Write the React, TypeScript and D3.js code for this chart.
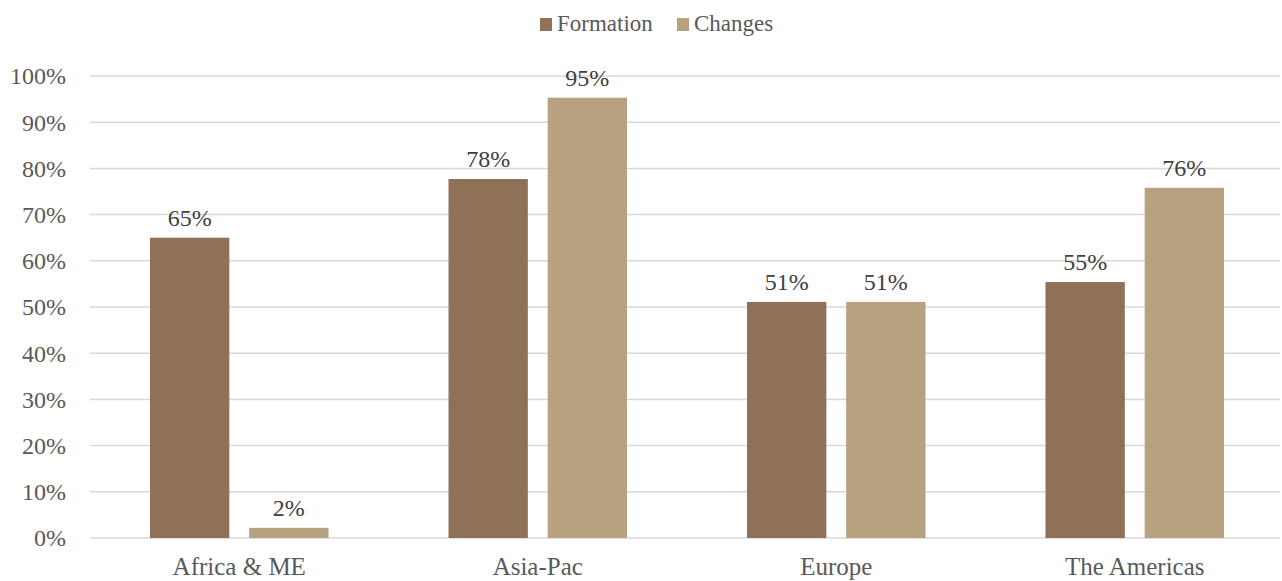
import React from "react";
import * as d3 from "d3";

const categories = ["Africa & ME", "Asia-Pac", "Europe", "The Americas"];
const seriesNames = ["Formation", "Changes"];
const formation = [0.65, 0.777, 0.511, 0.554];
const changes = [0.022, 0.953, 0.511, 0.758];
const yTicks = [0, 0.1, 0.2, 0.3, 0.4, 0.5, 0.6, 0.7, 0.8, 0.9, 1.0];
const colors = ["#8F7157", "#B8A17F"];

const W = 1282;
const H = 581;
const FONT = "Liberation Serif, Times New Roman, serif";

export default function App() {
  const x0 = d3.scaleBand<string>().domain(categories).range([90, 1284]).paddingInner(0).paddingOuter(0);
  const x1 = d3.scaleBand<string>().domain(seriesNames).range([60, x0.bandwidth() - 60]).paddingInner(0.2);
  const y = d3.scaleLinear().domain([0, 1]).range([538, 76]);
  const data = [formation, changes];
  const fmt = d3.format(".0%");
  const legendX = [540, 677];

  return (
    <svg width={W} height={H} style={{ position: "absolute", left: 0, top: 0, background: "#fff", fontFamily: FONT }}>
      {yTicks.map((t) => (
        <g key={t}>
          <line x1={90} x2={1280} y1={y(t)} y2={y(t)} stroke="#D9D9D9" strokeWidth={1.5} />
          <text x={66} y={y(t)} dy="0.35em" textAnchor="end" fontSize={24} fill="#595959">
            {fmt(t)}
          </text>
        </g>
      ))}
      {categories.map((c, i) => (
        <g key={c} transform={`translate(${x0(c)},0)`}>
          {seriesNames.map((s, j) => {
            const v = data[j][i];
            const bx = x1(s)!;
            return (
              <g key={s}>
                <rect x={bx} y={y(v)} width={x1.bandwidth()} height={y(0) - y(v)} fill={colors[j]} />
                <text x={bx + x1.bandwidth() / 2} y={y(v) - 12} textAnchor="middle" fontSize={24} fill="#404040">
                  {fmt(v)}
                </text>
              </g>
            );
          })}
          <text x={x0.bandwidth() / 2} y={575} textAnchor="middle" fontSize={25} fill="#595959">
            {c}
          </text>
        </g>
      ))}
      <g>
        {seriesNames.map((s, j) => (
          <g key={s}>
            <rect x={legendX[j]} y={18} width={12} height={13} fill={colors[j]} />
            <text x={legendX[j] + 17} y={31} fontSize={23} fill="#595959">
              {s}
            </text>
          </g>
        ))}
      </g>
    </svg>
  );
}
